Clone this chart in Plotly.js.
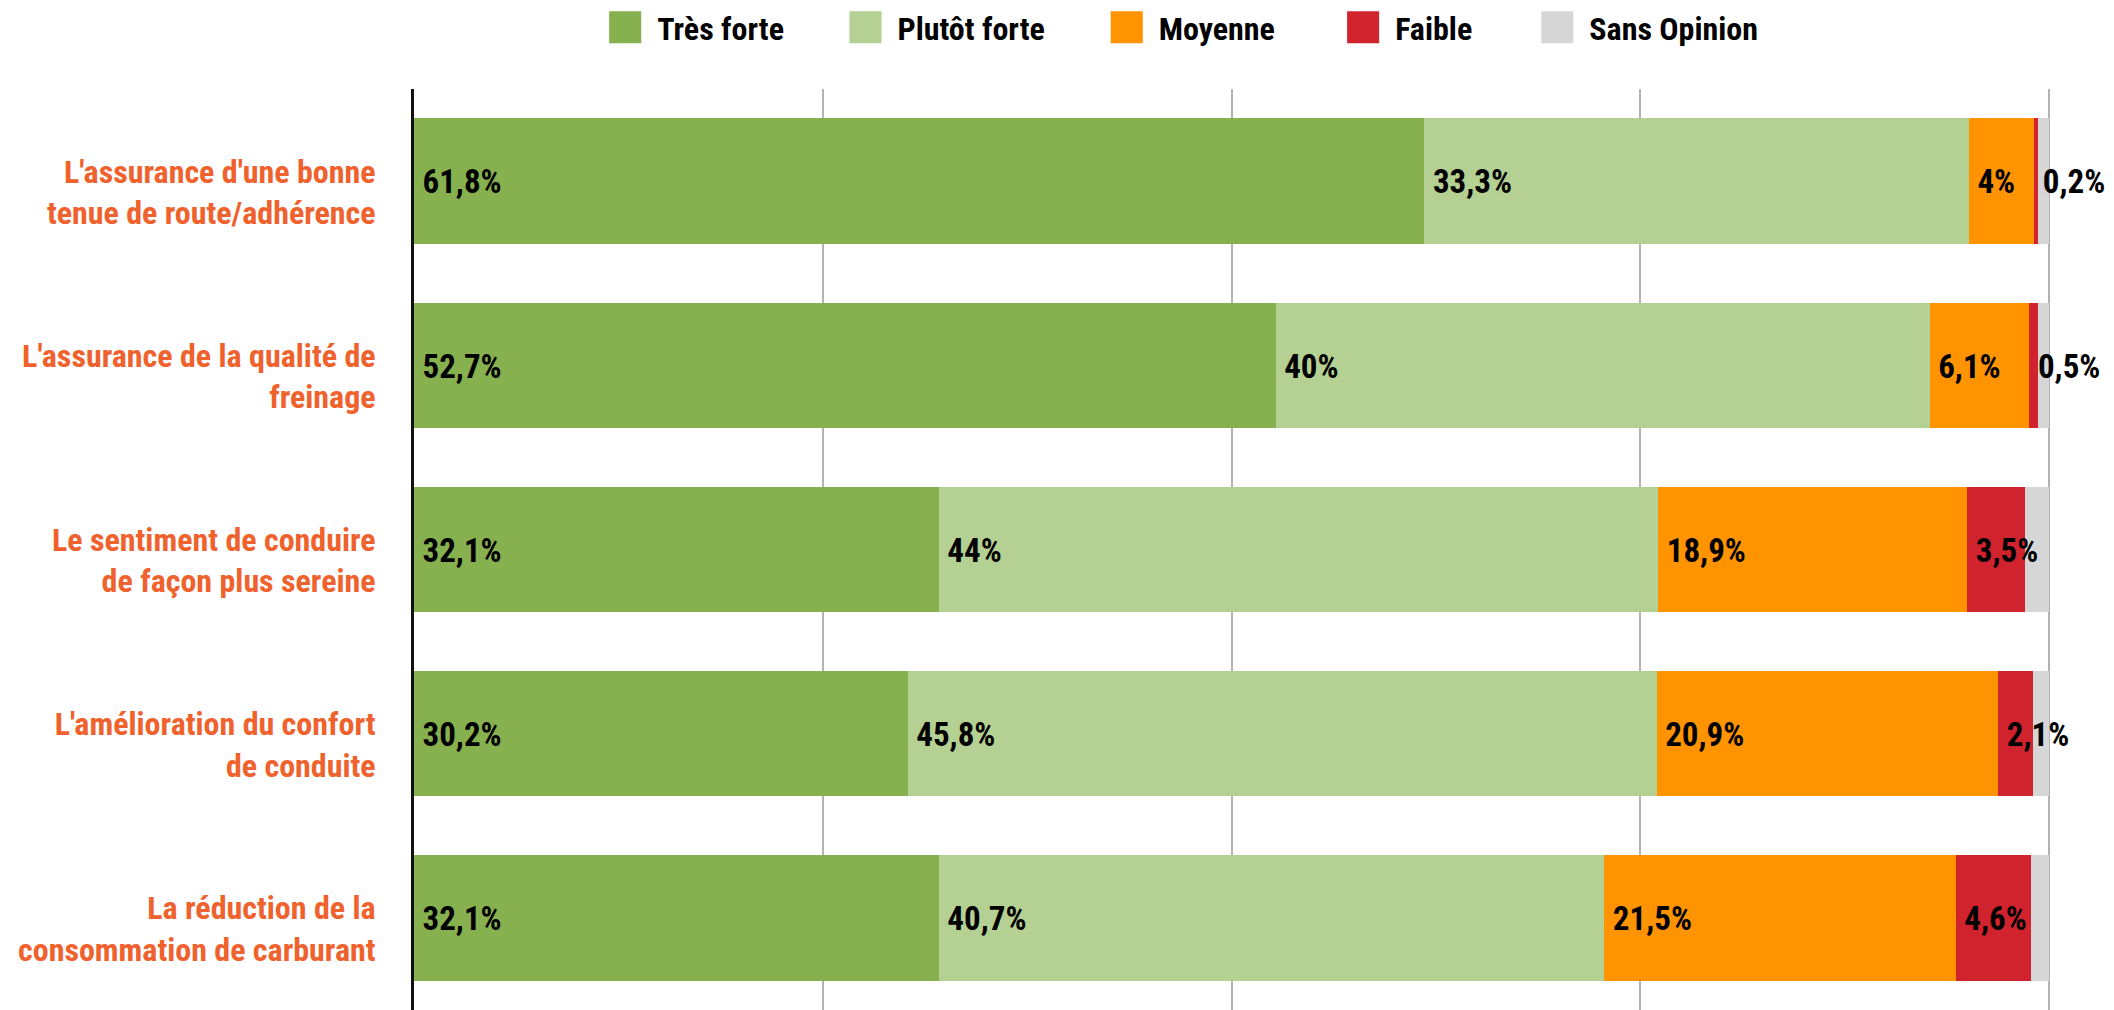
<!DOCTYPE html>
<html>
<head>
<meta charset="utf-8">
<script src="https://cdn.plot.ly/plotly-3.0.1.min.js"></script>
<style>html,body{margin:0;padding:0;background:#fff;}#chart{width:2114px;height:1010px;}</style>
</head>
<body>
<div id="chart"></div>
<script>
const categories = [
  "L'assurance d'une bonne<br>tenue de route/adhérence",
  "L'assurance de la qualité de<br>freinage",
  "Le sentiment de conduire<br>de façon plus sereine",
  "L'amélioration du confort<br>de conduite",
  "La réduction de la<br>consommation de carburant"
];
const seriesNames = ["Très forte", "Plutôt forte", "Moyenne", "Faible", "Sans Opinion"];
const tresForte   = [61.8, 52.7, 32.1, 30.2, 32.1];
const plutotForte = [33.3, 40.0, 44.0, 45.8, 40.7];
const moyenne     = [4.0, 6.1, 18.9, 20.9, 21.5];
const faible      = [0.2, 0.5, 3.5, 2.1, 4.6];
const sansOpinion = [0.7, 0.7, 1.5, 1.0, 1.1];
const showLabels  = [true, true, true, true, false];
const colors = ["#87B04F", "#B4D093", "#FF9300", "#D0232E", "#D6D6D6"];

const FONT = "'Roboto Condensed', 'Open Sans Condensed', 'Liberation Sans Narrow', sans-serif";
const fmt = v => String(v).replace('.', ',') + '%';

const series = [tresForte, plutotForte, moyenne, faible, sansOpinion];
const legendIds = ['legend', 'legend2', 'legend3', 'legend4', 'legend5'];

const traces = series.map((vals, i) => ({
  type: 'bar',
  orientation: 'h',
  name: seriesNames[i],
  legend: legendIds[i],
  x: vals,
  y: categories,
  marker: {color: colors[i], line: {width: 0}},
  hoverinfo: 'x+name'
}));

// value labels placed at the start of each stacked segment (drawn on top of all bars)
const starts = categories.map(() => 0);
series.forEach((vals, i) => {
  const xs = vals.map((v, k) => starts[k]);
  vals.forEach((v, k) => { starts[k] += v; });
  if (!showLabels[i]) return;
  traces.push({
    type: 'scatter',
    mode: 'markers+text',
    x: xs,
    y: categories,
    yaxis: 'y2',
    text: vals.map(fmt),
    textposition: 'middle right',
    marker: {size: 12, opacity: 0},
    textfont: {family: FONT, size: 33, color: '#000', weight: 'bold'},
    cliponaxis: false,
    showlegend: false,
    hoverinfo: 'skip'
  });
});

const legendBase = {
  orientation: 'h', y: 1.0673, yanchor: 'middle', xanchor: 'left',
  itemwidth: 50, bgcolor: 'rgba(0,0,0,0)',
  font: {family: FONT, size: 32, color: '#000', weight: 'bold'},
  itemclick: false, itemdoubleclick: false
};
const legendX = [0.1119, 0.2587, 0.4183, 0.5627, 0.6813];

const layout = {
  width: 2114, height: 1010,
  margin: {l: 414, r: 63, t: 89, b: 0, pad: 0},
  barmode: 'stack',
  bargap: 0.32,
  paper_bgcolor: '#fff', plot_bgcolor: '#fff',
  showlegend: true,
  xaxis: {
    range: [0, 100.12], dtick: 25, tick0: 0, showticklabels: false, ticks: '',
    showgrid: true, gridcolor: '#B3B3B3', gridwidth: 2, zeroline: false, fixedrange: true
  },
  yaxis: {
    autorange: 'reversed', type: 'category', showgrid: false, zeroline: false,
    showline: true, linecolor: '#111', linewidth: 3, ticks: '',
    ticklabelstandoff: 29,
    ticklabelshift: -11,
    tickfont: {family: FONT, size: 32, color: '#F0622D', weight: 'bold'},
    fixedrange: true
  },
  yaxis2: {
    overlaying: 'y', type: 'category', categoryorder: 'array', categoryarray: categories,
    range: [4.478, -0.522], visible: false, showgrid: false, zeroline: false, fixedrange: true
  }
};
legendIds.forEach((id, i) => { layout[id] = Object.assign({}, legendBase, {x: legendX[i]}); });

Plotly.newPlot('chart', traces, layout, {displayModeBar: false, staticPlot: true}).then(() => {
  // enlarge legend swatches to match the reference's square keys
  document.querySelectorAll('#chart .legendpoints path').forEach(p => {
    p.setAttribute('transform', 'translate(28,0) scale(2.67)');
  });
});
</script>
</body>
</html>
